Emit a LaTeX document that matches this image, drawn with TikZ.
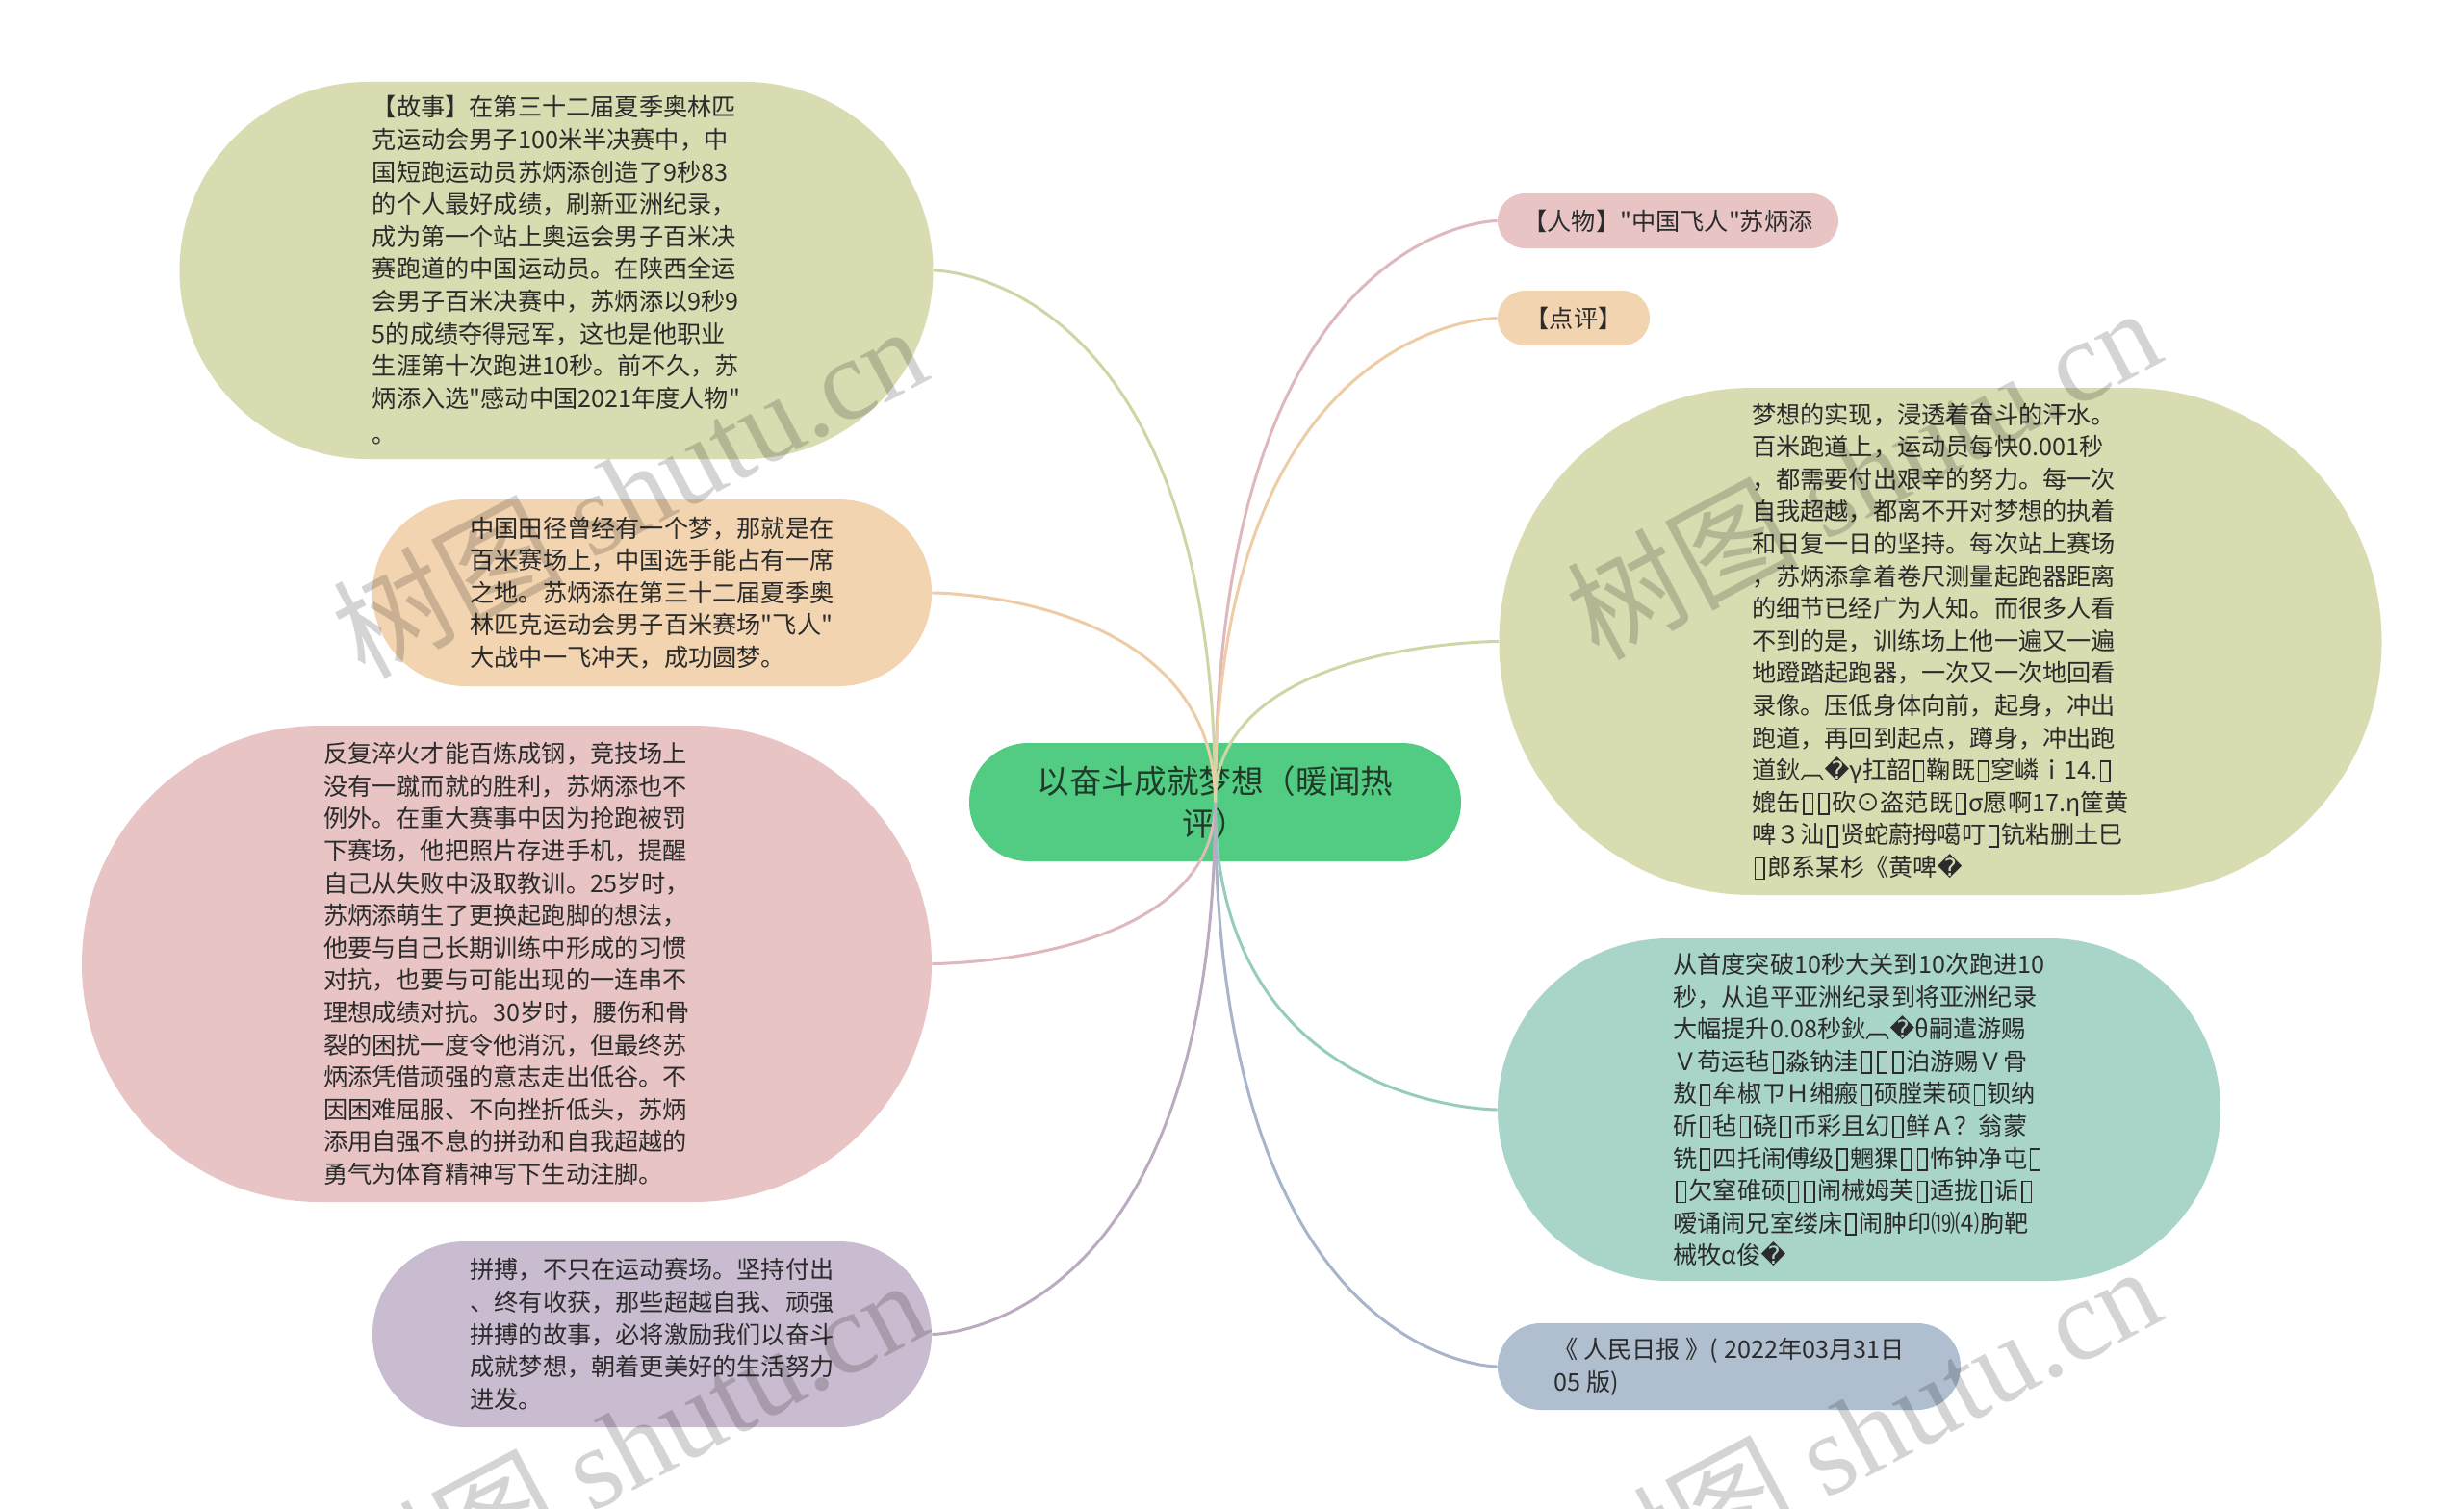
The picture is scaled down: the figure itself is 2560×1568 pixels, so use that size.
\documentclass[tikz,border=0pt]{standalone}
\usepackage{fontspec}
\setmainfont{Noto Sans CJK SC}[Ligatures=TeXOff]
\newfontfamily\dvfont{DejaVu Sans}
\newfontfamily\wmlatin{Liberation Serif}
\usetikzlibrary{calc}
\newcommand{\rpl}{{\dvfont\char"FFFD}}
\newcommand{\tofu}{\kern0.1em\raisebox{-0.08em}{\fboxsep=0pt\fboxrule=0.065em\fbox{\rule{0pt}{0.8em}\hspace{0.32em}}}\kern0.1em}
\definecolor{txt}{HTML}{2B2B2B}
\definecolor{ctxt}{HTML}{1F3A28}
\definecolor{cOlive}{RGB}{216,220,176}
\definecolor{cOrange}{RGB}{242,212,176}
\definecolor{cPink}{RGB}{232,196,196}
\definecolor{cPurple}{RGB}{201,187,208}
\definecolor{cTeal}{RGB}{168,212,202}
\definecolor{cBlue}{RGB}{175,191,208}
\definecolor{cGreen}{RGB}{82,204,130}
\definecolor{lOlive}{RGB}{207,214,166}
\definecolor{lOrange}{RGB}{238,204,166}
\definecolor{lPink}{RGB}{222,184,188}
\definecolor{lPurple}{RGB}{188,170,194}
\definecolor{lTeal}{RGB}{150,204,190}
\definecolor{lBlue}{RGB}{167,181,202}
\tikzset{
  bub/.style={inner sep=0pt, align=left, text=txt, font=\fontsize{12.6}{16.8}\selectfont},
  link/.style={line width=1.5pt},
  wm/.style={rotate=28, text=black, opacity=0.17, inner sep=0pt, font=\fontsize{60}{60}\selectfont}
}
\begin{document}
\begin{tikzpicture}[x=0.5pt,y=-0.5pt]
\useasboundingbox (0,0) rectangle (2560,1568);
\fill[white] (0,0) rectangle (2560,1568);

% left side
\node[bub, fill=cOlive, minimum width=391.5pt, minimum height=196pt, rounded corners=98pt] (story) at (578,281) {%
【故事】在第三十二届夏季奥林匹\\
克运动会男子100米半决赛中，中\\
国短跑运动员苏炳添创造了9秒83\\
的个人最好成绩，刷新亚洲纪录，\\
成为第一个站上奥运会男子百米决\\
赛跑道的中国运动员。在陕西全运\\
会男子百米决赛中，苏炳添以9秒9\\
5的成绩夺得冠军，这也是他职业\\
生涯第十次跑进10秒。前不久，苏\\
炳添入选"感动中国2021年度人物"\\[2pt]
。};

\node[bub, fill=cOrange, minimum width=290.5pt, minimum height=97pt, rounded corners=48.5pt] (dream) at (677.5,616) {%
中国田径曾经有一个梦，那就是在\\
百米赛场上，中国选手能占有一席\\
之地。苏炳添在第三十二届夏季奥\\
林匹克运动会男子百米赛场"飞人"\\
大战中一飞冲天，成功圆梦。};

\node[bub, fill=cPink, minimum width=441.5pt, minimum height=247.5pt, rounded corners=123.75pt] (steel) at (526.5,1001.5) {%
反复淬火才能百炼成钢，竞技场上\\
没有一蹴而就的胜利，苏炳添也不\\
例外。在重大赛事中因为抢跑被罚\\
下赛场，他把照片存进手机，提醒\\
自己从失败中汲取教训。25岁时，\\
苏炳添萌生了更换起跑脚的想法，\\
他要与自己长期训练中形成的习惯\\
对抗，也要与可能出现的一连串不\\
理想成绩对抗。30岁时，腰伤和骨\\
裂的困扰一度令他消沉，但最终苏\\
炳添凭借顽强的意志走出低谷。不\\
因困难屈服、不向挫折低头，苏炳\\
添用自强不息的拼劲和自我超越的\\
勇气为体育精神写下生动注脚。};

\node[bub, fill=cPurple, minimum width=290.5pt, minimum height=96.5pt, rounded corners=48.25pt] (strive) at (677.5,1386.5) {%
拼搏，不只在运动赛场。坚持付出\\
、终有收获，那些超越自我、顽强\\
拼搏的故事，必将激励我们以奋斗\\
成就梦想，朝着更美好的生活努力\\
进发。};

% root
\node[bub, align=center, text=ctxt, font=\fontsize{16.8}{22}\selectfont, fill=cGreen, minimum width=255.5pt, minimum height=61.5pt, rounded corners=30.75pt] (root) at (1262.5,833.5) {以奋斗成就梦想（暖闻热\\评）};

% right side
\node[bub, fill=cPink, minimum width=177pt, minimum height=28.5pt, rounded corners=14.25pt] (renwu) at (1733,229.5) {【人物】"中国飞人"苏炳添};

\node[bub, fill=cOrange, minimum width=79pt, minimum height=28.5pt, rounded corners=14.25pt] (dianping) at (1635,330.5) {【点评】};

\node[bub, fill=cOlive, minimum width=458.5pt, minimum height=263.5pt, rounded corners=131.75pt] (sweat) at (2016,666.5) {%
梦想的实现，浸透着奋斗的汗水。\\
百米跑道上，运动员每快0.001秒\\
，都需要付出艰辛的努力。每一次\\
自我超越，都离不开对梦想的执着\\
和日复一日的坚持。每次站上赛场\\
，苏炳添拿着卷尺测量起跑器距离\\
的细节已经广为人知。而很多人看\\
不到的是，训练场上他一遍又一遍\\
地蹬踏起跑器，一次又一次地回看\\
录像。压低身体向前，起身，冲出\\
跑道，再回到起点，蹲身，冲出跑\\
道鈥︹\rpl γ扛韶\tofu 鞠既\tofu 窆嶙ｉ14.\tofu\\
媲缶\tofu\tofu 砍⊙盗范既\tofu σ愿啊17.η筐黄\\
啤３汕\tofu 贤蛇蔚拇噶叮\tofu 钪粘删土巳\\
\tofu 郎系某杉《黄啤\rpl};

\node[bub, fill=cTeal, minimum width=375.5pt, minimum height=178pt, rounded corners=89pt] (record) at (1931.5,1153) {%
从首度突破10秒大关到10次跑进10\\
秒，从追平亚洲纪录到将亚洲纪录\\
大幅提升0.08秒鈥︹\rpl θ嗣遣游赐\\
Ｖ苟运毡\tofu 淼钠洼\tofu\tofu\tofu 泊游赐Ｖ骨\\
敖\tofu 牟椒ㄗＨ缃瘢\tofu 硕膛茉硕\tofu 钡纳\\
斫\tofu 毡\tofu 硗\tofu 币彩且幻\tofu 鲜Ａ？翁蒙\\
铣\tofu 四托闹傅级\tofu 魍猓\tofu\tofu 怖钟净屯\tofu\\
\tofu 欠窒碓硕\tofu\tofu 闹械姆芙\tofu 适拢\tofu 诟\tofu\\
嗳诵闹兄室缕床\tofu 闹肿印⒆⑷朐靶\\
械牧α俊\rpl};

\node[bub, fill=cBlue, minimum width=240.5pt, minimum height=45pt, rounded corners=22.5pt] (source) at (1796.5,1420) {%
《 人民日报 》( 2022年03月31日\\
05 版)};

% connectors
\foreach \t/\c in {renwu/lPink, dianping/lOrange, sweat/lOlive, record/lTeal, source/lBlue}
  \draw[link, draw=\c] (root.center) .. controls (root.center |- \t.west) and (\t.west) .. (\t.west);
\foreach \t/\c in {story/lOlive, dream/lOrange, steel/lPink, strive/lPurple}
  \draw[link, draw=\c] (root.center) .. controls (root.center |- \t.east) and (\t.east) .. (\t.east);

% watermarks
\node[wm] (wm1) at (653,509) {树图 {\wmlatin shutu.cn}};
\node[wm] (wm2) at (1935,490) {树图 {\wmlatin shutu.cn}};
\node[wm] (wm3) at (653,1500) {树图 {\wmlatin shutu.cn}};
\node[wm] (wm4) at (1935,1486) {树图 {\wmlatin shutu.cn}};
\end{tikzpicture}
\end{document}
